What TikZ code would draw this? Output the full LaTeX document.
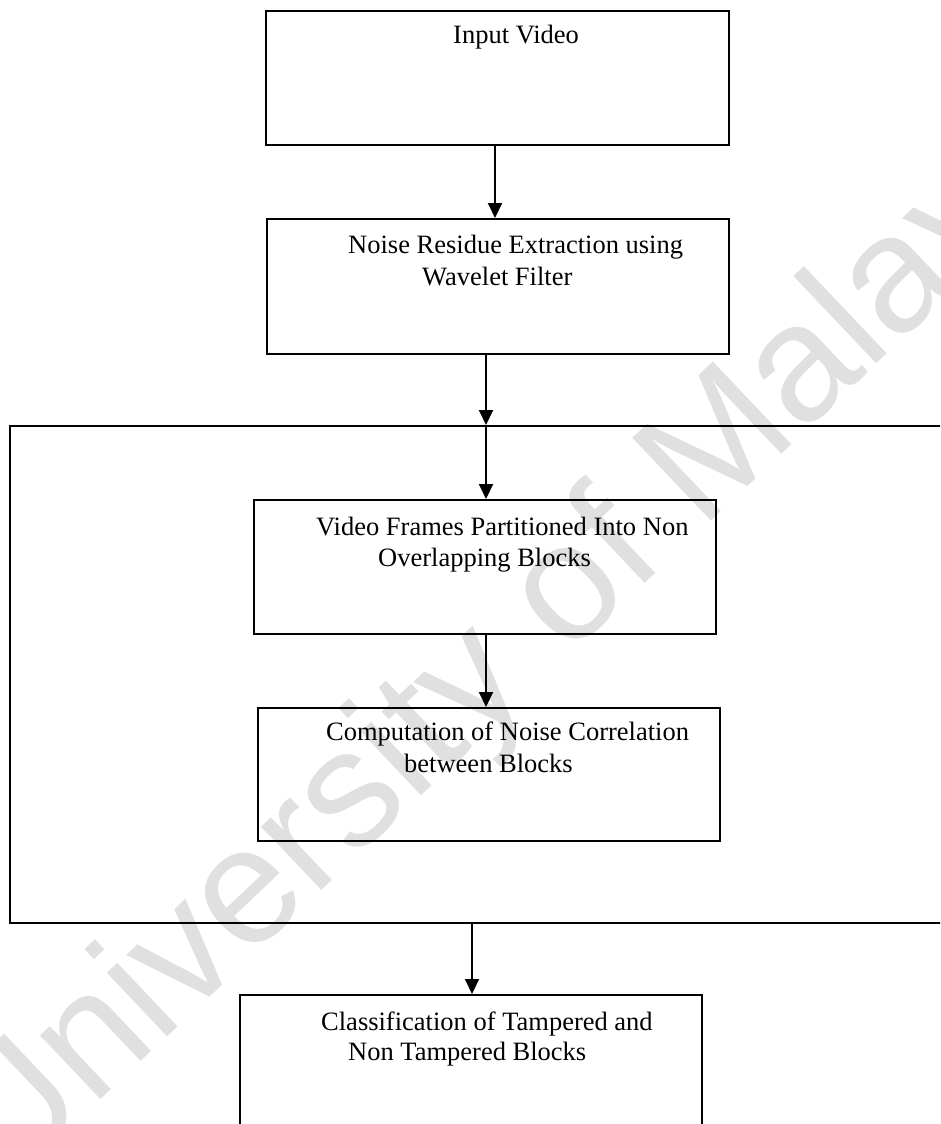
\documentclass[tikz,border=0pt]{standalone}
\usepackage{fontspec}
\setmainfont{Liberation Serif}
\newfontfamily\markfont{Liberation Sans}
\usetikzlibrary{arrows.meta}

\begin{document}
\begin{tikzpicture}[x=1pt,y=-1pt,
  boxframe/.style={draw=black, line width=1.6pt, rectangle, inner sep=0pt, anchor=north west},
  label/.style={inner sep=0pt, anchor=base west, font=\fontsize{26.5}{31.5}\selectfont},
  flow/.style={line width=2pt, -{Triangle[width=14pt,length=15pt]}}
]
\useasboundingbox (0,0) rectangle (940,1124);
\clip (0,0) rectangle (940,1124);

% faint background mark
\node[text=black!12, font=\markfont\fontsize{166}{166}\selectfont, rotate=43.5, inner sep=0pt]
  (mark) at (518,645) {University of Malaya};

% process boxes
\node[boxframe, minimum width=463pt, minimum height=134pt] (b1) at (265,10) {};
\node[boxframe, minimum width=462pt, minimum height=135pt] (b2) at (266,218) {};
\node[boxframe, minimum width=1000pt, minimum height=497pt] (grp) at (9,425) {};
\node[boxframe, minimum width=462pt, minimum height=134pt] (b3) at (253,499) {};
\node[boxframe, minimum width=462pt, minimum height=133pt] (b4) at (257,707) {};
\node[boxframe, minimum width=462pt, minimum height=200pt] (b5) at (239,994) {};

% box texts
\node[label] (t1)  at (453,44)   {Input Video};
\node[label] (t2a) at (348,253)  {Noise Residue Extraction using};
\node[label] (t2b) at (422,285)  {Wavelet Filter};
\node[label] (t3a) at (316,535)  {Video Frames Partitioned Into Non};
\node[label] (t3b) at (378,566)  {Overlapping Blocks};
\node[label] (t4a) at (326,740)  {Computation of Noise Correlation};
\node[label] (t4b) at (404,772)  {between Blocks};
\node[label] (t5a) at (321,1030) {Classification of Tampered and};
\node[label] (t5b) at (348,1060) {Non Tampered Blocks};

% connectors
\coordinate (c1) at (495,0);
\coordinate (c2) at (486,0);
\coordinate (c5) at (472,0);
\draw[flow] (b1.south -| c1) -- (b2.north -| c1);
\draw[flow] (b2.south -| c2) -- (grp.north -| c2);
\draw[flow] (grp.north -| c2) -- (b3.north -| c2);
\draw[flow] (b3.south -| c2) -- (b4.north -| c2);
\draw[flow] (grp.south -| c5) -- (b5.north -| c5);
\end{tikzpicture}
\end{document}
